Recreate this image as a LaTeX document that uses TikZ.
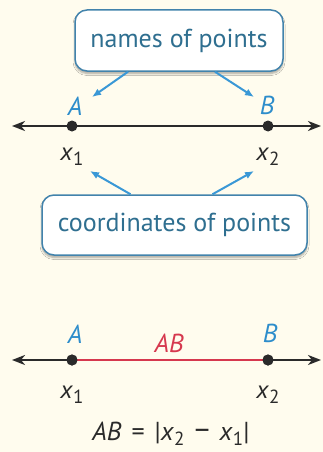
\documentclass[tikz,border=0pt]{standalone}
\usepackage{fontspec}
\setmainfont{PT Sans}
\usetikzlibrary{arrows.meta,shadows.blur}
\definecolor{bg}{HTML}{FFFCEE}
\definecolor{boxline}{HTML}{4283AC}
\definecolor{boxtext}{HTML}{2F6F90}
\definecolor{arrowblue}{HTML}{3A98D6}
\definecolor{ptblue}{HTML}{2D8DCB}
\definecolor{segred}{HTML}{D6384E}
\definecolor{linegray}{HTML}{2A2A2A}
\newcommand{\xs}[1]{\textit{x}\raisebox{-5pt}{\fontsize{19}{19}\selectfont #1}}
\newcommand{\gap}{\hspace{10pt}}
\tikzset{
  callout/.style={draw=boxline, line width=1.5pt, fill=white, rounded corners=12pt,
    text=boxtext, font=\fontsize{26}{28}\selectfont, inner sep=0pt,
    blur shadow={shadow blur steps=6, shadow xshift=0pt, shadow yshift=-2.5pt, shadow opacity=35}},
  callarrow/.style={draw=arrowblue, line width=2pt, -{Latex[length=9pt,width=7.5pt]}},
  numline/.style={draw=linegray, line width=2.8pt, {Stealth[length=13pt,width=10pt,inset=4pt]}-{Stealth[length=13pt,width=10pt,inset=4pt]}},
  ptlabel/.style={text=ptblue, font=\fontsize{26}{28}\selectfont\itshape, inner sep=0pt, anchor=base},
  coordlabel/.style={text=linegray, font=\fontsize{25}{28}\selectfont, inner sep=0pt, anchor=base},
  dot/.style={circle, fill=linegray, inner sep=0pt, minimum size=11pt},
}
\begin{document}
\begin{tikzpicture}[x=1pt,y=-1pt]
\useasboundingbox[fill=bg] (0,0) rectangle (323,452);

% ---------- top part ----------
\node[callout, minimum width=208pt, minimum height=61pt] (names) at (179,40.5) {names of points};
\node[ptlabel] (A1) at (75,115) {A};
\node[ptlabel] (B1) at (267,114) {B};

\coordinate (L1) at (12,126);
\coordinate (R1) at (321,126);
\draw[numline] (L1) -- (R1);
\node[dot] (P1) at (72,126) {};
\node[dot] (Q1) at (268,126) {};

\node[coordlabel] (X11) at (72,160) {\xs{1}};
\node[coordlabel] (X21) at (268,160) {\xs{2}};

\node[callout, minimum width=265pt, minimum height=60pt] (coords) at (174.5,225) {coordinates of points};

\coordinate (nA) at (92,97);
\coordinate (nB) at (254,97);
\draw[callarrow] ([xshift=-51pt]names.south) -- (nA);
\draw[callarrow] ([xshift=36pt]names.south) -- (nB);

\coordinate (cA) at (90,171);
\coordinate (cB) at (254,171);
\draw[callarrow] ([xshift=-44pt]coords.north) -- (cA);
\draw[callarrow] ([xshift=38pt]coords.north) -- (cB);

% ---------- bottom part ----------
\node[ptlabel] (A2) at (75,343) {A};
\node[ptlabel, text=segred] (AB) at (169,352) {AB};
\node[ptlabel] (B2) at (270,342) {B};

\coordinate (L2) at (12,360);
\coordinate (R2) at (321,360);
\draw[numline] (L2) -- (R2);
\node[dot] (P2) at (72,360) {};
\node[dot] (Q2) at (268,360) {};
\draw[draw=segred, line width=2.8pt] (P2.center) -- (Q2.center);
\node[dot] at (72,360) {};
\node[dot] at (268,360) {};

\node[coordlabel] (X12) at (72,398) {\xs{1}};
\node[coordlabel] (X22) at (268,398) {\xs{2}};

\node[coordlabel, font=\fontsize{26}{28}\selectfont] (eq) at (171,440) {\textit{AB}\gap=\gap|\xs{2}\gap{\fontsize{30}{30}\selectfont −}\gap\xs{1}|};
\end{tikzpicture}
\end{document}
